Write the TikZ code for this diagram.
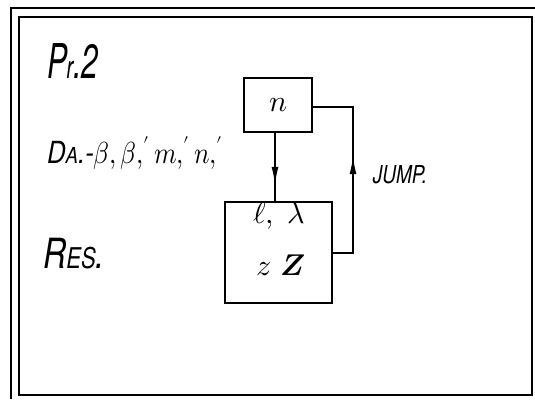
\documentclass[tikz,border=0pt]{standalone}
\usepackage{fontspec}
\usepackage{unicode-math}
\setmainfont{TeX Gyre Heros}
\setmathfont{Latin Modern Math}
\usetikzlibrary{arrows.meta,decorations.markings}
\newcommand{\fsz}[1]{\fontsize{#1}{#1}\selectfont}
\begin{document}
\begin{tikzpicture}[x=1pt,y=-1pt,
  frame/.style={line width=2pt},
  blk/.style={draw,line width=1.6pt,inner sep=0pt,anchor=center},
  conn/.style={line width=1.6pt},
  lbl/.style={inner sep=0pt,anchor=center},
  tipat/.style={postaction={decorate},decoration={markings,mark=at position #1 with {\arrow{Latex[length=18pt,width=7pt]}}}}]
\useasboundingbox (0,0) rectangle (535,399);
% frame
\draw[frame] (19,17) rectangle (532,395);
\draw[frame] (11,399) -- (11,8) -- (535,8);
% boxes
\node[blk,minimum width=68pt,minimum height=54pt] (n) at (278,105) {};
\node[blk,minimum width=107pt,minimum height=101pt] (low) at (278.5,252.5) {};
\coordinate (rt) at (353,107);
\coordinate (rb) at (353,253);
% connectors
\draw[conn,tipat=52pt] (n.south -| 275,0) -- (low.north -| 275,0);
\draw[conn,tipat=117pt] (low.east |- rb) -- (rb) -- (rt) -- (n.east |- rt);
% texts
\node[lbl] (pr) at (73,61) {\scalebox{1}[1.6]{\fsz{30}\itshape P\kern-1pt{\fsz{20}r}.2}};
\node[lbl] (da) at (135,153) {\scalebox{0.89}[1.05]{\fsz{29}\itshape D{\fsz{21}A}.-$\beta{,}\,\beta{,}'\,m{,}'\,n{,}'$}};
\node[lbl] (res) at (74,254) {\scalebox{1}[1.3]{\fsz{32}\itshape R{\fsz{22}ES}.}};
\node[lbl] (jump) at (400,175) {\scalebox{1}[1.3]{\fsz{19}\itshape JUMP.}};
\node[lbl] (nt) at (n) {\fsz{30}$n$};
\node[lbl] (l1) at (279,216) {\fsz{30}$\ell,\ \lambda$};
\node[lbl] (l2) at (281,265) {\fsz{30}$z\ {\fsz{36}\symbfit{Z}}$};
\end{tikzpicture}
\end{document}
